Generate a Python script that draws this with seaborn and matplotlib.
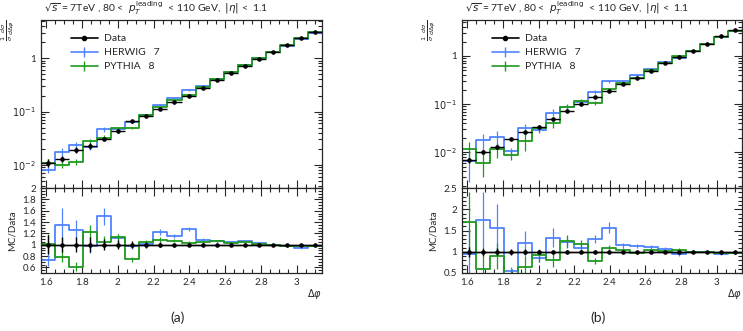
import numpy as np
import pandas as pd
import matplotlib
matplotlib.use("Agg")
import matplotlib.pyplot as plt
from matplotlib.lines import Line2D
from matplotlib.ticker import MultipleLocator, FixedLocator, FixedFormatter, NullFormatter, FuncFormatter, LogLocator
import seaborn as sns

# bins: 20 bins from pi/2 to pi
edges = np.linspace(np.pi / 2, np.pi, 21)
centers = 0.5 * (edges[:-1] + edges[1:])
half_w = 0.5 * (edges[1] - edges[0])

# ---- panel (a) ----
data_a = [0.011, 0.0128, 0.019, 0.0227, 0.031, 0.043, 0.066, 0.083, 0.11, 0.153,
          0.20, 0.279, 0.387, 0.53, 0.71, 0.97, 1.31, 1.77, 2.43, 3.1]
data_err_a = [0.17, 0.13, 0.13, 0.13, 0.10, 0.08, 0.06, 0.05, 0.04, 0.035,
              0.03, 0.025, 0.02, 0.02, 0.015, 0.015, 0.01, 0.01, 0.01, 0.01]
herwig_a = [0.73, 1.35, 1.26, 0.97, 1.50, 1.12, 0.98, 1.02, 1.22, 1.15,
            1.28, 1.08, 1.07, 1.04, 1.06, 1.03, 0.99, 0.97, 0.94, 0.97]
herwig_err_a = [0.10, 0.30, 0.18, 0.12, 0.15, 0.07, 0.05, 0.04, 0.05, 0.04,
                0.04, 0.03, 0.02, 0.02, 0.02, 0.015, 0.01, 0.01, 0.01, 0.01]
pythia_a = [1.01, 0.79, 0.61, 1.22, 1.05, 1.13, 0.74, 1.04, 1.09, 1.07,
            1.03, 1.04, 1.06, 1.03, 1.04, 1.02, 0.99, 0.98, 0.97, 0.98]
pythia_err_a = [0.18, 0.10, 0.08, 0.12, 0.10, 0.05, 0.04, 0.04, 0.04, 0.03,
                0.03, 0.02, 0.02, 0.02, 0.015, 0.01, 0.01, 0.01, 0.01, 0.01]

# ---- panel (b) ----
data_b = [0.0068, 0.0100, 0.0129, 0.019, 0.026, 0.034, 0.050, 0.071, 0.099, 0.138,
          0.19, 0.257, 0.35, 0.49, 0.70, 0.94, 1.29, 1.80, 2.6, 3.4]
data_err_b = [0.12, 0.10, 0.08, 0.07, 0.06, 0.05, 0.04, 0.035, 0.03, 0.03,
              0.025, 0.02, 0.02, 0.015, 0.015, 0.01, 0.01, 0.01, 0.01, 0.01]
herwig_b = [0.95, 1.75, 1.57, 0.55, 1.20, 0.85, 1.33, 1.22, 1.10, 1.30,
            1.57, 1.15, 1.13, 1.10, 1.07, 0.95, 1.00, 0.99, 0.95, 0.97]
herwig_err_b = [0.60, 0.65, 0.55, 0.10, 0.30, 0.10, 0.22, 0.10, 0.08, 0.10,
                0.12, 0.06, 0.05, 0.05, 0.04, 0.04, 0.03, 0.02, 0.02, 0.02]
pythia_b = [1.70, 0.60, 0.90, 0.47, 0.65, 0.92, 0.80, 1.25, 1.18, 0.78,
            1.10, 1.05, 0.98, 1.04, 1.02, 1.05, 1.00, 1.00, 0.97, 0.98]
pythia_err_b = [0.70, 0.30, 0.30, 0.10, 0.25, 0.15, 0.15, 0.15, 0.10, 0.07,
                0.06, 0.05, 0.04, 0.04, 0.03, 0.03, 0.02, 0.02, 0.02, 0.02]

c_data = "black"
c_herwig = "#4f84ff"
c_pythia = "#1f9a1f"

title_txt = r"$\sqrt{s}$ = 7TeV , 80 <  $p_{T}^{\rm leading}$  < 110 GeV,  $|\eta|$ <  1.1"

sns.set_style("ticks")
plt.rcParams["font.family"] = ["Lato", "DejaVu Sans"]
plt.rcParams["mathtext.fontset"] = "dejavusans"
fs = 7

fig = plt.figure(figsize=(7.43, 3.31), dpi=100)

panels = [
    dict(x0=41, x1=322, data=data_a, derr=data_err_a, h=herwig_a, herr=herwig_err_a,
         p=pythia_a, perr=pythia_err_a, ylim=(0.0037, 5.2), rlim=(0.5, 2.0),
         rmaj=[0.6, 0.8, 1.0, 1.2, 1.4, 1.6, 1.8, 2.0], rminor=0.05, tag="(a)"),
    dict(x0=462, x1=742, data=data_b, derr=data_err_b, h=herwig_b, herr=herwig_err_b,
         p=pythia_b, perr=pythia_err_b, ylim=(0.0018, 5.6), rlim=(0.5, 2.5),
         rmaj=[0.5, 1.0, 1.5, 2.0, 2.5], rminor=0.1, tag="(b)"),
]

W, H = 743.0, 331.0
bin_list = list(edges)
for pn in panels:
    left = pn["x0"] / W
    width = (pn["x1"] - pn["x0"]) / W
    ax = fig.add_axes([left, 1 - 188 / H, width, (188 - 20) / H])
    axr = fig.add_axes([left, 1 - 273 / H, width, (273 - 188) / H], sharex=ax)

    data = np.array(pn["data"])
    for ratio, rerr, col in [(pn["h"], pn["herr"], c_herwig), (pn["p"], pn["perr"], c_pythia)]:
        ratio = np.array(ratio)
        mc = data * ratio
        mc_err = data * np.array(rerr)
        df = pd.DataFrame({"phi": centers, "mc": mc, "ratio": ratio})
        sns.histplot(data=df, x="phi", weights="mc", bins=bin_list, element="step",
                     fill=False, color=col, linewidth=1.3, ax=ax)
        ax.errorbar(centers, mc, yerr=mc_err, fmt="none", ecolor=col, elinewidth=0.9)
        sns.histplot(data=df, x="phi", weights="ratio", bins=bin_list, element="step",
                     fill=False, color=col, linewidth=1.3, ax=axr)
        axr.errorbar(centers, ratio, yerr=rerr, fmt="none", ecolor=col, elinewidth=0.9)

    derr = data * np.array(pn["derr"])
    ax.errorbar(centers, data, xerr=half_w, yerr=derr, fmt="o", color=c_data,
                markersize=2.3, elinewidth=1.0, capsize=0)
    ones = np.ones_like(centers)
    axr.axhline(1.0, color=c_data, lw=1.0)
    axr.errorbar(centers, ones, xerr=half_w, yerr=pn["derr"], fmt="o", color=c_data,
                 markersize=2.3, elinewidth=1.0, capsize=0)

    ax.set_yscale("log")
    ax.set_ylim(*pn["ylim"])
    ax.set_xlim(edges[0], edges[-1])
    ax.yaxis.set_major_locator(FixedLocator([0.01, 0.1, 1.0]))
    ax.yaxis.set_major_formatter(FixedFormatter([r"$10^{-2}$", r"$10^{-1}$", "1"]))
    ax.yaxis.set_minor_locator(LogLocator(base=10, subs=np.arange(2, 10), numticks=20))
    ax.yaxis.set_minor_formatter(NullFormatter())
    ax.set_ylabel(r"$\frac{1}{\sigma}\,\frac{d\sigma}{d\Delta\varphi}$", fontsize=6.5, loc="top")
    ax.yaxis.set_label_coords(-0.085, 1.0)
    ax.set_xlabel("")
    plt.setp(ax.get_xticklabels(), visible=False)

    axr.set_ylim(*pn["rlim"])
    axr.yaxis.set_major_locator(FixedLocator(pn["rmaj"]))
    axr.yaxis.set_major_formatter(FuncFormatter(lambda v, _: f"{v:g}"))
    axr.yaxis.set_minor_locator(MultipleLocator(pn["rminor"]))
    axr.xaxis.set_major_locator(MultipleLocator(0.2))
    axr.xaxis.set_major_formatter(FuncFormatter(lambda v, _: f"{v:g}"))
    axr.xaxis.set_minor_locator(MultipleLocator(0.05))
    axr.set_ylabel("MC/Data", fontsize=fs)
    axr.set_xlabel(r"$\Delta\varphi$", fontsize=fs, loc="right", labelpad=0)

    for a in (ax, axr):
        a.tick_params(which="both", direction="in", top=True, right=True, labelsize=fs, width=0.8)
        a.tick_params(which="major", length=6)
        a.tick_params(which="minor", length=3)
        for s in a.spines.values():
            s.set_linewidth(0.9)

    ax.text(0.01, 1.015, title_txt, transform=ax.transAxes, fontsize=7.5, ha="left", va="bottom")

    handles = [
        Line2D([], [], color=c_data, marker="o", markersize=3, lw=1.2),
        Line2D([], [], color=c_herwig, marker="|", markersize=7, lw=1.2),
        Line2D([], [], color=c_pythia, marker="|", markersize=7, lw=1.2),
    ]
    ax.legend(handles, ["Data", "HERWIG   7", "PYTHIA   8"], loc="upper left",
              bbox_to_anchor=(0.08, 0.96), frameon=False, fontsize=7.5,
              handlelength=2.6, labelspacing=0.45, borderpad=0.2, handletextpad=0.6)

    fig.text((pn["x0"] + pn["x1"]) / 2 / W - 0.005, 1 - 318 / H, pn["tag"], fontsize=10,
             ha="center", va="center")

fig.savefig("out.png", dpi=100)
